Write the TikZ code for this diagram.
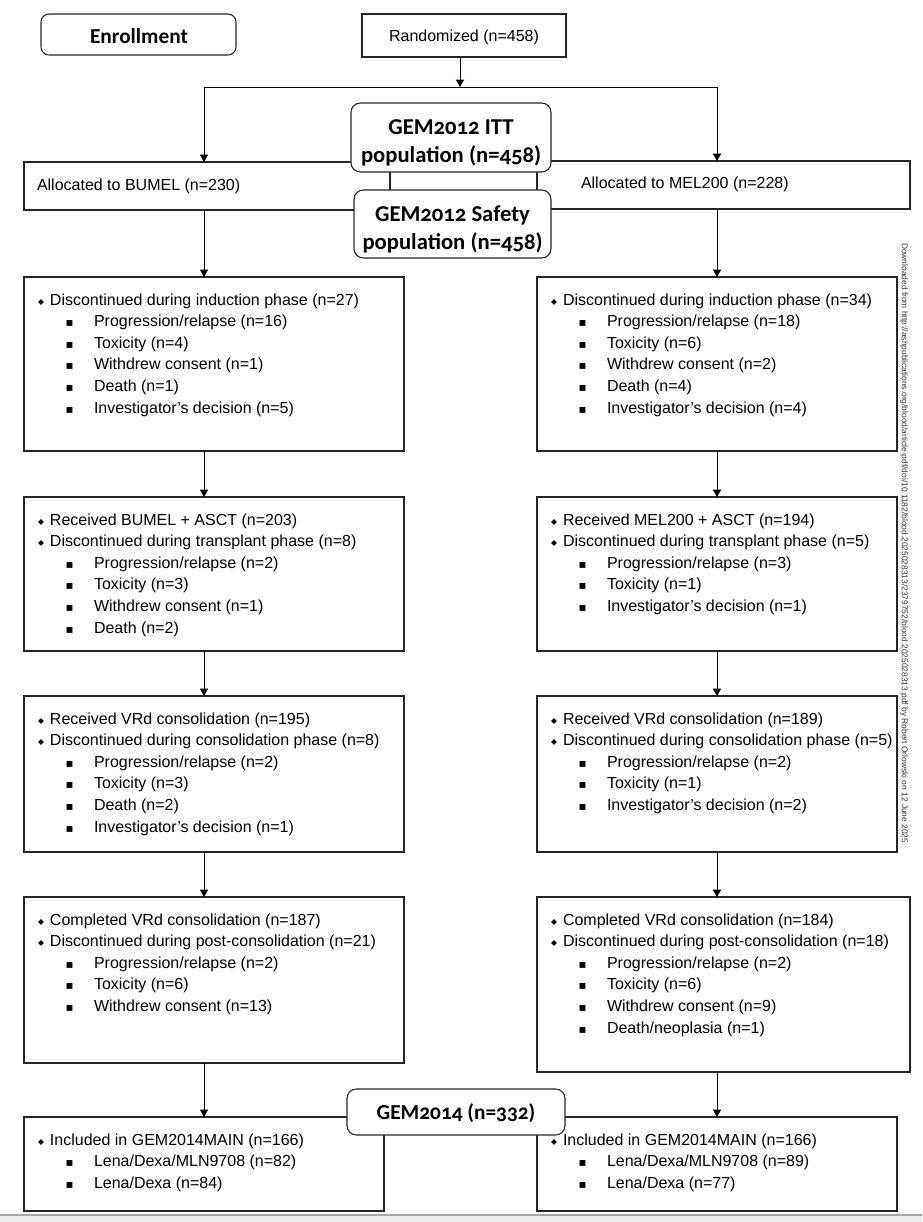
\documentclass[tikz,border=0pt]{standalone}
\usepackage{fontspec}
\setmainfont{Liberation Sans}
\newfontfamily\calb[Numbers=OldStyle]{Carlito}
\newfontfamily\symf{DejaVu Sans}
\usetikzlibrary{arrows.meta}
\newcommand{\dmd}{{\symf\fontsize{5.8}{6}\selectfont\raisebox{0.6pt}{◆}}}
\newcommand{\sqb}{{\symf\fontsize{8.8}{9}\selectfont ▪}}
\newcommand{\Ta}[1]{\hbox{\hspace*{10.5pt}\makebox[9pt][l]{\dmd}#1}}
\newcommand{\Tb}[1]{\hbox{\hspace*{31.3pt}\makebox[21.2pt][l]{\sqb}#1}}
\newcommand{\fst}{\rule{0pt}{21pt}}
\begin{document}
\begin{tikzpicture}[x=0.75pt,y=-0.75pt,
  every node/.style={inner sep=0pt,outer sep=0pt},
  boxs/.style={draw=black!85,line width=0.8pt,anchor=north west,fill=white},
  rbox/.style={draw=black!85,line width=0.8pt,rounded corners=7pt,fill=white},
  txt/.style={anchor=north west,font=\fontsize{12}{16.2}\selectfont},
  arr/.style={line width=0.75pt,-{Triangle[length=5.5pt,width=6pt]}},
  ttl/.style={font=\calb\bfseries\fontsize{17}{21}\selectfont,align=center}]
\useasboundingbox (0,0) rectangle (922,1222);
% bottom page edge
\fill[black!8] (0,1215) rectangle (922,1222);
\draw[black!35,line width=1pt] (0,1215) -- (922,1215);

% top row
\node[rbox,minimum width=146.25pt,minimum height=30.75pt,rounded corners=6pt] (enr) at (138.5,34.5) {};
\node[font=\calb\bfseries\fontsize{16}{19}\selectfont] (enrT) at (139,36) {Enrollment};
\node[boxs,anchor=center,minimum width=153pt,minimum height=32.25pt] (rand) at (464,35.5) {};
\node[font=\fontsize{12}{14}\selectfont] (randT) at (464,37.5) {Randomized (n=458)};

\coordinate (jm) at (460,87);
\coordinate (jl) at (204,87);
\coordinate (jr) at (717,87);
\coordinate (xl) at (204,0);
\coordinate (xr) at (717,0);

% allocation boxes
\node[boxs,minimum width=274.5pt,minimum height=36pt] (AL) at (24,162) {};
\node[boxs,minimum width=279.75pt,minimum height=36pt] (AR) at (537,161) {};
\node[anchor=west,font=\fontsize{12}{14}\selectfont] (ALt) at (37,186) {Allocated to BUMEL (n=230)};
\node[anchor=west,font=\fontsize{12}{14}\selectfont] (ARt) at (581,184) {Allocated to MEL200 (n=228)};

\draw[arr] (rand.south -| jm) -- (jm);
\draw[line width=0.75pt] (jl) -- (jr);
\draw[arr] (jl) -- (AL.north -| jl);
\draw[arr] (jr) -- (AR.north -| jr);

% GEM2012 populations
\node[rbox,minimum width=150pt,minimum height=51.75pt] (itt) at (451,137.5) {};
\node[ttl] (ittT) at (451,142.5) {GEM2012 ITT\\population (n=458)};
\node[rbox,minimum width=147.75pt,minimum height=51pt] (saf) at (452.5,224) {};
\node[ttl] (safT) at (452.5,229) {GEM2012 Safety\\population (n=458)};

% left column
\node[boxs,minimum width=285pt,minimum height=130.5pt] (L1) at (24,277) {};
\node[boxs,minimum width=285pt,minimum height=115.5pt] (L2) at (24,497) {};
\node[boxs,minimum width=285pt,minimum height=117pt] (L3) at (24,696) {};
\node[boxs,minimum width=285pt,minimum height=124.5pt] (L4) at (24,897) {};
\node[boxs,minimum width=270pt,minimum height=70.5pt] (L5) at (24,1117) {};
% right column
\node[boxs,minimum width=270pt,minimum height=130.5pt] (R1) at (537,277) {};
\node[boxs,minimum width=270pt,minimum height=115.5pt] (R2) at (537,497) {};
\node[boxs,minimum width=270pt,minimum height=117pt] (R3) at (537,696) {};
\node[boxs,minimum width=279.75pt,minimum height=131.25pt] (R4) at (537,897) {};
\node[boxs,minimum width=270pt,minimum height=70.5pt] (R5) at (537,1117) {};

\node[rbox,minimum width=163.5pt,minimum height=34.5pt] (g14) at (456,1112) {};
\node[font=\calb\bfseries\fontsize{16}{19}\selectfont] (g14T) at (456,1113) {GEM2014 (n=332)};

% connectors
\draw[arr] (AL.south -| xl) -- (L1.north -| xl);
\draw[arr] (L1.south -| xl) -- (L2.north -| xl);
\draw[arr] (L2.south -| xl) -- (L3.north -| xl);
\draw[arr] (L3.south -| xl) -- (L4.north -| xl);
\draw[arr] (L4.south -| xl) -- (L5.north -| xl);
\draw[arr] (AR.south -| xr) -- (R1.north -| xr);
\draw[arr] (R1.south -| xr) -- (R2.north -| xr);
\draw[arr] (R2.south -| xr) -- (R3.north -| xr);
\draw[arr] (R3.south -| xr) -- (R4.north -| xr);
\draw[arr] (R4.south -| xr) -- (R5.north -| xr);

% texts left
\node[txt] (L1t) at (L1.north west) {\vbox{
  \Ta{\fst Discontinued during induction phase (n=27)}
  \Tb{Progression/relapse (n=16)}
  \Tb{Toxicity (n=4)}
  \Tb{Withdrew consent (n=1)}
  \Tb{Death (n=1)}
  \Tb{Investigator’s decision (n=5)}}};
\node[txt] (L2t) at (L2.north west) {\vbox{
  \Ta{\fst Received BUMEL + ASCT (n=203)}
  \Ta{Discontinued during transplant phase (n=8)}
  \Tb{Progression/relapse (n=2)}
  \Tb{Toxicity (n=3)}
  \Tb{Withdrew consent (n=1)}
  \Tb{Death (n=2)}}};
\node[txt] (L3t) at (L3.north west) {\vbox{
  \Ta{\fst Received VRd consolidation (n=195)}
  \Ta{Discontinued during consolidation phase (n=8)}
  \Tb{Progression/relapse (n=2)}
  \Tb{Toxicity (n=3)}
  \Tb{Death (n=2)}
  \Tb{Investigator’s decision (n=1)}}};
\node[txt] (L4t) at (L4.north west) {\vbox{
  \Ta{\fst Completed VRd consolidation (n=187)}
  \Ta{Discontinued during post-consolidation (n=21)}
  \Tb{Progression/relapse (n=2)}
  \Tb{Toxicity (n=6)}
  \Tb{Withdrew consent (n=13)}}};
\node[txt] (L5t) at (L5.north west) {\vbox{
  \Ta{\fst Included in GEM2014MAIN (n=166)}
  \Tb{Lena/Dexa/MLN9708 (n=82)}
  \Tb{Lena/Dexa (n=84)}}};
% texts right
\node[txt] (R1t) at (R1.north west) {\vbox{
  \Ta{\fst Discontinued during induction phase (n=34)}
  \Tb{Progression/relapse (n=18)}
  \Tb{Toxicity (n=6)}
  \Tb{Withdrew consent (n=2)}
  \Tb{Death (n=4)}
  \Tb{Investigator’s decision (n=4)}}};
\node[txt] (R2t) at (R2.north west) {\vbox{
  \Ta{\fst Received MEL200 + ASCT (n=194)}
  \Ta{Discontinued during transplant phase (n=5)}
  \Tb{Progression/relapse (n=3)}
  \Tb{Toxicity (n=1)}
  \Tb{Investigator’s decision (n=1)}}};
\node[txt] (R3t) at (R3.north west) {\vbox{
  \Ta{\fst Received VRd consolidation (n=189)}
  \Ta{Discontinued during consolidation phase (n=5)}
  \Tb{Progression/relapse (n=2)}
  \Tb{Toxicity (n=1)}
  \Tb{Investigator’s decision (n=2)}}};
\node[txt] (R4t) at (R4.north west) {\vbox{
  \Ta{\fst Completed VRd consolidation (n=184)}
  \Ta{Discontinued during post-consolidation (n=18)}
  \Tb{Progression/relapse (n=2)}
  \Tb{Toxicity (n=6)}
  \Tb{Withdrew consent (n=9)}
  \Tb{Death/neoplasia (n=1)}}};
\node[txt] (R5t) at (R5.north west) {\vbox{
  \Ta{\fst Included in GEM2014MAIN (n=166)}
  \Tb{Lena/Dexa/MLN9708 (n=89)}
  \Tb{Lena/Dexa (n=77)}}};

% watermark
\node[rotate=-90,anchor=west,text=black!80,font=\fontsize{6.3}{7}\selectfont] (wm) at (904,243)
  {Downloaded from http://ashpublications.org/blood/article-pdf/doi/10.1182/blood.2025028313/2379752/blood.2025028313.pdf by Robert Orlowski on 12 June 2025};
\end{tikzpicture}
\end{document}
